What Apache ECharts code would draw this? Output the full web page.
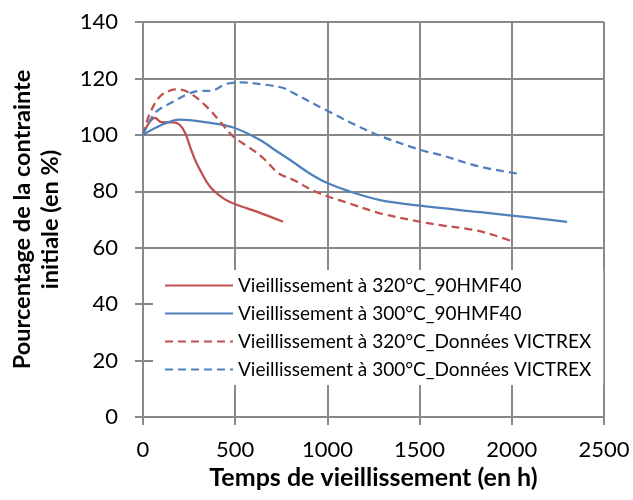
<!DOCTYPE html>
<html>
<head>
<meta charset="utf-8">
<script src="https://cdn.jsdelivr.net/npm/echarts@6/dist/echarts.min.js"></script>
<style>
  html, body { margin: 0; padding: 0; background: #fff; }
  #chart { width: 633px; height: 500px; }
</style>
</head>
<body>
<div id="chart"></div>
<script>
// Ageing time (h) vs. percentage of initial stress (%)
const seriesNames = [
  'Vieillissement à 320°C_90HMF40',
  'Vieillissement à 300°C_90HMF40',
  'Vieillissement à 320°C_Données VICTREX',
  'Vieillissement à 300°C_Données VICTREX'
];

const red320 = [
  [0, 100], [30, 104], [65, 106], [100, 104.5], [165, 104.4], [200, 103.5],
  [230, 100.5], [255, 95.8], [280, 91.5], [309, 87.6], [364, 81.6],
  [436, 77.5], [508, 75.2], [617, 72.8], [760, 69.2]
];

const blue300 = [
  [0, 100], [100, 103.5], [200, 105.4], [345, 104.4], [490, 102.6],
  [635, 98.2], [707, 95.0], [798, 91.1], [900, 86.5], [997, 83.0],
  [1123, 79.9], [1286, 76.9], [1503, 74.9], [1829, 72.6], [2000, 71.4],
  [2300, 69.2]
];

const redVictrex = [
  [0, 100], [38, 107.7], [92, 113.6], [147, 115.7], [190, 116.1], [255, 114.8],
  [345, 110], [418, 104.7], [490, 99.4], [581, 95.3], [653, 91.7],
  [735, 86.4], [816, 84.0], [924, 80.2], [1015, 77.9], [1105, 76.0],
  [1286, 72.2], [1503, 69.2], [1612, 68.0], [1792, 66.3], [1900, 64.5],
  [2010, 62.1]
];

const blueVictrex = [
  [0, 100], [65, 107.7], [165, 111.8], [255, 114.8], [309, 115.6],
  [364, 115.6], [454, 118.1], [526, 118.6], [671, 117.7], [761, 116.6],
  [816, 114.8], [997, 108.6], [1250, 100.6], [1503, 94.7], [1612, 92.9],
  [1829, 88.7], [2037, 86.2]
];

const xTicks = { min: 0, max: 2500, interval: 500 };
const yTicks = { min: 0, max: 140, interval: 20 };

const RED = '#C0504D';
const BLUE = '#4F81BD';
const GRID = '#898989';
const FONT = 'Lato, "Open Sans", sans-serif';

function lineSeries(name, data, color, dashed) {
  return {
    name: name,
    type: 'line',
    data: data,
    smooth: 0.35,
    showSymbol: false,
    symbol: 'none',
    lineStyle: {
      color: color,
      width: 2.25,
      type: dashed ? [8, 5] : 'solid'
    },
    itemStyle: { color: color },
    emphasis: { disabled: true },
    z: 3
  };
}

const chart = echarts.init(document.getElementById('chart'), null, { renderer: 'canvas' });

const axisCommon = {
  type: 'value',
  axisLine: { show: true, lineStyle: { color: GRID, width: 2 } },
  axisTick: { show: true, inside: false, length: 8, lineStyle: { color: GRID, width: 2 } },
  splitLine: { show: true, lineStyle: { color: GRID, width: 2 } },
  axisLabel: {
    color: '#000', fontFamily: FONT, fontSize: 22,
    formatter: function (v) { return String(v); }
  },
  nameTextStyle: { color: '#000', fontFamily: FONT, fontSize: 24, fontWeight: 'bold' }
};

chart.setOption({
  animation: false,
  backgroundColor: '#fff',
  grid: {
    left: 143, right: 29, top: 22, bottom: 83,
    containLabel: false,
    outerBoundsMode: 'none'
  },
  xAxis: Object.assign({}, axisCommon, {
    min: xTicks.min, max: xTicks.max, interval: xTicks.interval,
    name: 'Temps de vieillissement (en h)',
    nameLocation: 'middle',
    nameGap: 47,
    nameTextStyle: Object.assign({}, axisCommon.nameTextStyle, { fontSize: 25 }),
    axisLabel: Object.assign({}, axisCommon.axisLabel, { margin: 22 })
  }),
  yAxis: Object.assign({}, axisCommon, {
    min: yTicks.min, max: yTicks.max, interval: yTicks.interval,
    name: 'Pourcentage de la contrainte\ninitiale (en %)',
    nameLocation: 'middle',
    nameGap: 79,
    nameRotate: 90,
    nameTextStyle: Object.assign({}, axisCommon.nameTextStyle, { fontSize: 23.5, lineHeight: 28 }),
    axisLabel: Object.assign({}, axisCommon.axisLabel, { margin: 25 })
  }),
  legend: {
    show: true,
    orient: 'vertical',
    left: 153,
    top: 270,
    backgroundColor: '#fff',
    padding: [6, 12, 6, 11],
    itemWidth: 68,
    itemHeight: 14,
    itemGap: 9,
    itemStyle: { opacity: 0 },
    textStyle: { color: '#000', fontFamily: FONT, fontSize: 19 },
    data: seriesNames,
    selectedMode: false
  },
  series: [
    lineSeries(seriesNames[0], red320, RED, false),
    lineSeries(seriesNames[1], blue300, BLUE, false),
    lineSeries(seriesNames[2], redVictrex, RED, true),
    lineSeries(seriesNames[3], blueVictrex, BLUE, true)
  ]
});
</script>
</body>
</html>
